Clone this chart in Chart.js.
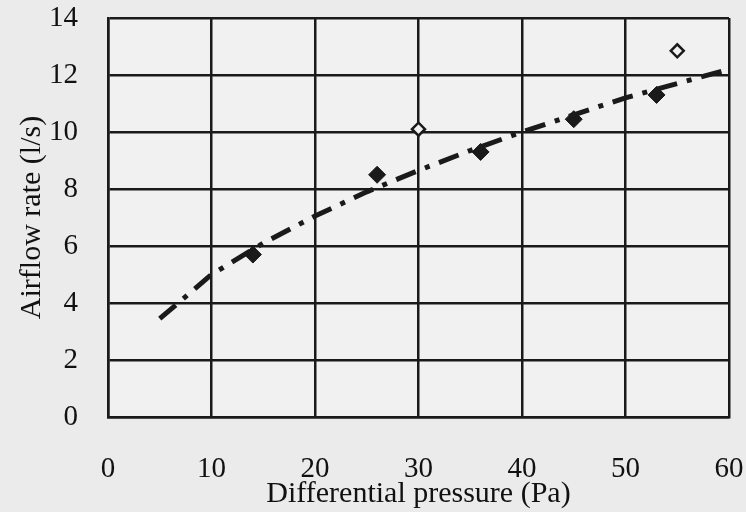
<!DOCTYPE html>
<html>
<head>
<meta charset="utf-8">
<script src="https://cdn.jsdelivr.net/npm/chart.js@4/dist/chart.umd.min.js"></script>
<style>
  html, body { margin: 0; padding: 0; background: #ebebeb; }
  #wrap { width: 746px; height: 512px; }
</style>
</head>
<body>
<div id="wrap"><canvas id="airflow" width="746" height="512"></canvas></div>
<script>
// measured points
const pressure = [14, 26, 36, 45, 53];
const airflow = [5.7, 8.5, 9.3, 10.45, 11.3];
// open markers (excluded points)
const outlierPressure = [30, 55];
const outlierAirflow = [10.1, 12.85];
// fitted curve
const fitPressure = [5, 10, 15, 20, 25, 30, 35, 40, 45, 50, 55, 60];
const fitAirflow = [3.45, 5.0, 6.1, 7.05, 7.9, 8.65, 9.35, 10.0, 10.6, 11.2, 11.7, 12.2];

const xTicks = [0, 10, 20, 30, 40, 50, 60];
const yTicks = [0, 2, 4, 6, 8, 10, 12, 14];

function toPoints(xs, ys) {
    return xs.map((x, i) => ({x: x, y: ys[i]}));
}

const serif = "'Liberation Serif', 'DejaVu Serif', serif";
const ink = '#1a1a1a';

const background = {
    id: 'background',
    beforeDraw(chart) {
        const c = chart.ctx, a = chart.chartArea;
        c.save();
        c.fillStyle = '#ebebeb';
        c.fillRect(0, 0, chart.width, chart.height);
        c.fillStyle = '#f1f1f1';
        c.fillRect(a.left, a.top, a.right - a.left, a.bottom - a.top);
        c.restore();
    }
};

let config = {
    type: 'scatter',
    data: {
        datasets: [
            {
                label: 'fit',
                data: toPoints(fitPressure, fitAirflow),
                showLine: true,
                borderColor: ink,
                borderWidth: 5,
                borderDash: [21, 10, 5, 10],
                borderCapStyle: 'butt',
                pointRadius: 0,
                fill: false
            },
            {
                label: 'measured',
                data: toPoints(pressure, airflow),
                pointStyle: 'rectRot',
                pointRadius: 8.5,
                backgroundColor: ink,
                borderColor: ink,
                borderWidth: 1
            },
            {
                label: 'excluded',
                data: toPoints(outlierPressure, outlierAirflow),
                pointStyle: 'rectRot',
                pointRadius: 6.5,
                backgroundColor: '#f1f1f1',
                borderColor: ink,
                borderWidth: 2.5
            }
        ]
    },
    options: {
        responsive: false,
        animation: false,
        layout: { padding: { top: 18, right: 17, left: 0, bottom: 0 } },
        plugins: { legend: { display: false }, tooltip: { enabled: false } },
        scales: {
            x: {
                type: 'linear',
                min: 0,
                max: 60,
                afterBuildTicks(scale) { scale.ticks = xTicks.map(v => ({value: v})); },
                afterFit(scale) {
                    scale.height = 95;
                    scale.paddingLeft = 0;
                    scale.paddingRight = 0;
                },
                grid: { color: ink, lineWidth: 2.5, drawTicks: false },
                border: { color: ink, width: 2.5 },
                ticks: { color: '#111', padding: 35, font: { family: serif, size: 29 } },
                title: {
                    display: true,
                    text: 'Differential pressure (Pa)',
                    color: '#111',
                    font: { family: serif, size: 30 },
                    padding: { top: 0, bottom: 0 }
                }
            },
            y: {
                type: 'linear',
                min: 0,
                max: 14,
                afterBuildTicks(scale) { scale.ticks = yTicks.map(v => ({value: v})); },
                afterFit(scale) {
                    scale.width = 108;
                    scale.paddingTop = 0;
                    scale.paddingBottom = 0;
                },
                grid: { color: ink, lineWidth: 2.5, drawTicks: false },
                border: { color: ink, width: 2.5 },
                ticks: { color: '#111', padding: 30, font: { family: serif, size: 29 } },
                title: {
                    display: true,
                    text: 'Airflow rate (l/s)',
                    color: '#111',
                    font: { family: serif, size: 30 },
                    padding: { top: 14, bottom: 0 }
                }
            }
        }
    },
    plugins: [background]
};

let ctx1 = document.getElementById('airflow').getContext('2d');
window.myChart = new Chart(ctx1, config);
</script>
</body>
</html>
